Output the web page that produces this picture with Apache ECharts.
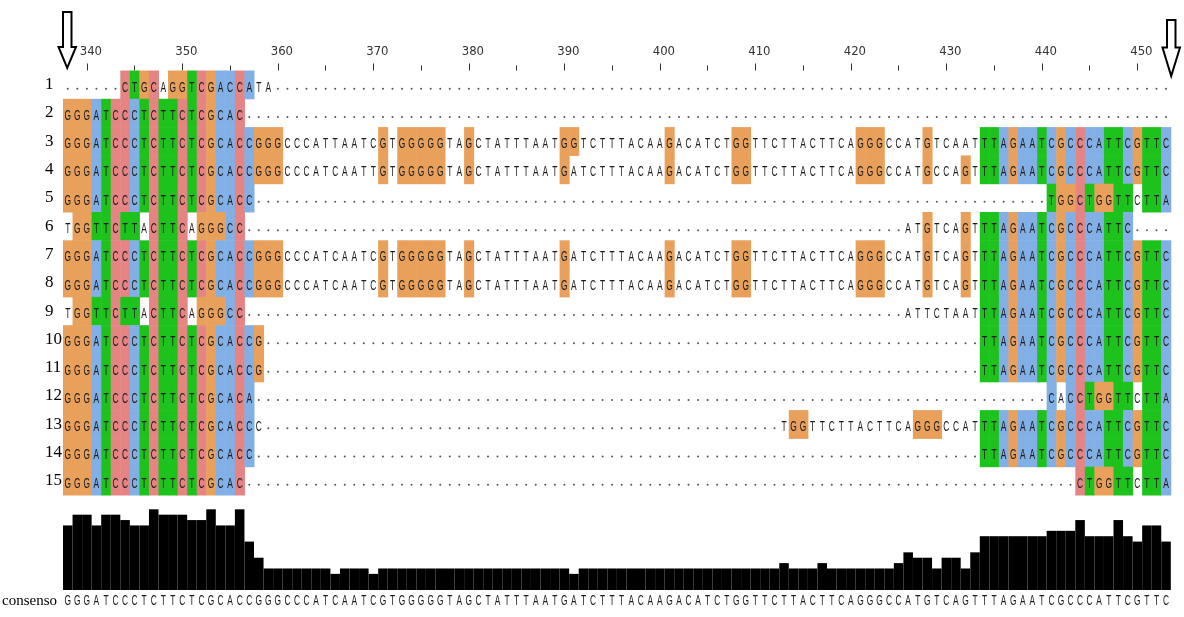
<!DOCTYPE html>
<html>
<head>
<meta charset="utf-8">
<script src="https://cdn.jsdelivr.net/npm/echarts@6/dist/echarts.min.js"></script>
<style>
  html, body { margin: 0; padding: 0; background: #fff; }
  #chart { width: 1184px; height: 617px; }
</style>
</head>
<body>
<div id="chart"></div>
<script>
// alignment columns 338..453
var firstPos = 338, lastPos = 453;
var positions = [];
for (var p = firstPos; p <= lastPos; p++) positions.push(String(p));

var rowNames = ['1','2','3','4','5','6','7','8','9','10','11','12','13','14','15'];

var consensus = 'GGGATCCCTC' + 'TTCTCGCACC' + 'GGGCCCATCA' + 'ATCGTGGGGG' + 'TAGCTATTTA' +
                'ATGATCTTTA' + 'CAAGACATCT' + 'GGTTCTTACT' + 'TCAGGGCCAT' + 'GTCAGTTTAG' +
                'AATCGCCCAT' + 'TCGTTC';

var seq3 = 'GGGATCCCTC' + 'TTCTCGCACC' + 'GGGCCCATTA' + 'ATCGTGGGGG' + 'TAGCTATTTA' +
           'ATGGTCTTTA' + 'CAAGACATCT' + 'GGTTCTTACT' + 'TCAGGGCCAT' + 'GTCAATTTAG' +
           'AATCGCCCAT' + 'TCGTTC';
var seq4 = 'GGGATCCCTC' + 'TTCTCGCACC' + 'GGGCCCATCA' + 'ATTGTGGGGG' + 'TAGCTATTTA' +
           'ATGATCTTTA' + 'CAAGACATCT' + 'GGTTCTTACT' + 'TCAGGGCCAT' + 'GCCAGTTTAG' +
           'AATCGCCCAT' + 'TCGTTC';

// [start position, residues]; everything else is a gap
var rowSegments = [
  [[344, 'CTGCAGGTCGACCATA']],
  [[338, 'GGGATCCCTCTTCTCGCAC']],
  [[338, seq3]],
  [[338, seq4]],
  [[338, 'GGGATCCCTCTTCTCGCACC'], [441, 'TGGCTGGTTCTTA']],
  [[338, 'TGGTTCTTACTTCAGGGCC'], [426, 'ATGTCAGTTTAGAATCGCCCATTC']],
  [[338, consensus]],
  [[338, consensus]],
  [[338, 'TGGTTCTTACTTCAGGGCC'], [426, 'ATTCTAATTTAGAATCGCCCATTCGTTC']],
  [[338, 'GGGATCCCTCTTCTCGCACCG'], [434, 'TTAGAATCGCCCATTCGTTC']],
  [[338, 'GGGATCCCTCTTCTCGCACCG'], [434, 'TTAGAATCGCCCATTCGTTC']],
  [[338, 'GGGATCCCTCTTCTCGCACA'], [441, 'CACCTGGTTCTTA']],
  [[338, 'GGGATCCCTCTTCTCGCACCC'], [413, 'TGGTTCTTACTTCAGGGCCATTTAGAATCGCCCATTCGTTC']],
  [[338, 'GGGATCCCTCTTCTCGCACC'], [434, 'TTAGAATCGCCCATTCGTTC']],
  [[338, 'GGGATCCCTCTTCTCGCAC'], [444, 'CTGGTTCTTA']]
];

var nCol = positions.length, nRow = rowSegments.length;
var seqs = rowSegments.map(function (segs) {
  var s = [];
  for (var i = 0; i < nCol; i++) s.push('.');
  segs.forEach(function (sg) {
    for (var k = 0; k < sg[1].length; k++) s[sg[0] - firstPos + k] = sg[1].charAt(k);
  });
  return s;
});

// column residue counts
var colCounts = [];
for (var c = 0; c < nCol; c++) {
  var cnt = { A: 0, C: 0, G: 0, T: 0 };
  for (var r = 0; r < nRow; r++) { var ch = seqs[r][c]; if (cnt[ch] !== undefined) cnt[ch]++; }
  colCounts.push(cnt);
}
var conservation = colCounts.map(function (cnt) {
  return Math.max(cnt.A, cnt.C, cnt.G, cnt.T);
});

// clustal style shading
var ORANGE = '#E8A05A', BLUE = '#82B0E6', GREEN = '#1DC21D', PINK = '#E68484';
function shade(ch, cnt) {
  var hyd = (cnt.A + cnt.C) / nRow;
  if (ch === 'G') return ORANGE;
  if (ch === 'C') {
    if (cnt.C / nRow > 0.85) return PINK;
    return hyd > 0.6 ? BLUE : null;
  }
  if (ch === 'A') return hyd > 0.6 ? BLUE : null;
  if (ch === 'T') return (hyd > 0.6 || cnt.T / nRow > 0.5) ? GREEN : null;
  return null;
}

var cells = [];
for (var r2 = 0; r2 < nRow; r2++) {
  for (var c2 = 0; c2 < nCol; c2++) {
    var ch2 = seqs[r2][c2];
    cells.push({ col: c2, row: r2, ch: ch2, color: ch2 === '.' ? null : shade(ch2, colCounts[c2]) });
  }
}

var chart = echarts.init(document.getElementById('chart'));

function renderCell(params, api) {
  var cell = cells[params.dataIndex];
  var pt = api.coord([api.value(0), api.value(1)]);
  var sz = api.size([1, 1]);
  var kids = [];
  if (cell.color) {
    kids.push({
      type: 'rect',
      shape: { x: pt[0] - sz[0] / 2, y: pt[1] - sz[1] / 2, width: sz[0] + 0.5, height: sz[1] + 0.5 },
      style: { fill: cell.color }
    });
  }
  if (cell.ch === '.') {
    kids.push({ type: 'circle', shape: { cx: pt[0], cy: pt[1] + 4, r: 1 }, style: { fill: '#555' } });
  } else {
    kids.push({
      type: 'text', x: pt[0], y: pt[1] + 3, scaleX: 0.6,
      style: { text: cell.ch, x: 0, y: 0, align: 'center', verticalAlign: 'middle',
               font: '14px "Liberation Sans", Arial, sans-serif', fill: '#1a1a1a' }
    });
  }
  return { type: 'group', children: kids };
}

function renderConsensus(params, api) {
  var pt = api.coord([api.value(0), 0]);
  return {
    type: 'text', x: pt[0], y: pt[1] + 11, scaleX: 0.56,
    style: { text: consensus.charAt(params.dataIndex), x: 0, y: 0, align: 'center', verticalAlign: 'middle',
             font: '15px "Liberation Sans", Arial, sans-serif', fill: '#1a1a1a' }
  };
}

var option = {
  animation: false,
  grid: [
    { left: 63, right: 13.2, top: 70.5, height: 424.5 },
    { left: 63, right: 13.2, top: 509.3, height: 80.7 }
  ],
  xAxis: [{
    gridIndex: 0, type: 'category', data: positions, position: 'top',
    axisLine: { show: false },
    axisTick: { show: true, alignWithLabel: true, length: 7, lineStyle: { color: '#333', width: 1 },
      interval: function (i, v) { return +v % 10 === 0; } },
    axisLabel: { margin: 12, color: '#333', fontSize: 13, padding: [0, 0, 0, 8],
      fontFamily: '"Liberation Sans Narrow", "DejaVu Sans Condensed", "Liberation Sans", sans-serif',
      interval: function (i, v) { return +v % 10 === 0; } },
    splitLine: { show: false }
  }, {
    gridIndex: 0, type: 'category', data: positions, position: 'top',
    axisLine: { show: false },
    axisTick: { show: true, alignWithLabel: true, length: 5, lineStyle: { color: '#333', width: 1 },
      interval: function (i, v) { return +v % 5 === 0 && +v % 10 !== 0; } },
    axisLabel: { show: false },
    splitLine: { show: false }
  }, {
    gridIndex: 1, type: 'category', data: positions, show: false
  }],
  yAxis: [{
    gridIndex: 0, type: 'category', data: rowNames, inverse: true,
    axisLine: { show: false }, axisTick: { show: false }, splitLine: { show: false },
    axisLabel: { align: 'left', margin: 18, padding: [6, 0, 0, 0], color: '#000',
      fontFamily: '"Liberation Serif", "Times New Roman", serif', fontSize: 17 }
  }, {
    gridIndex: 1, type: 'value', min: 0, max: 15, show: false
  }],
  series: [{
    type: 'custom', xAxisIndex: 0, yAxisIndex: 0, silent: true,
    renderItem: renderCell,
    data: cells.map(function (d) { return [d.col, d.row]; })
  }, {
    type: 'bar', xAxisIndex: 2, yAxisIndex: 1, silent: true,
    barCategoryGap: '0%', itemStyle: { color: '#000' },
    data: conservation
  }, {
    type: 'custom', xAxisIndex: 2, yAxisIndex: 1, silent: true,
    renderItem: renderConsensus,
    data: positions.map(function (v, i) { return [i, 0]; })
  }],
  graphic: [{
    type: 'polygon',
    shape: { points: [[63, 12], [71.5, 12], [71.5, 47], [76, 47], [67.2, 68], [58.5, 47], [63, 47]] },
    style: { fill: '#fff', stroke: '#000', lineWidth: 2 }
  }, {
    type: 'polygon',
    shape: { points: [[1167, 20], [1175.5, 20], [1175.5, 47.5], [1180, 47.5], [1171.2, 76], [1162.5, 47.5], [1167, 47.5]] },
    style: { fill: '#fff', stroke: '#000', lineWidth: 2 }
  }, {
    type: 'text', x: 2, y: 601,
    style: { text: 'consenso', x: 0, y: 0, align: 'left', verticalAlign: 'middle',
             font: '15px "Liberation Serif", "Times New Roman", serif', fill: '#000' }
  }]
};

chart.setOption(option);
window.addEventListener('resize', chart.resize);
</script>
</body>
</html>
